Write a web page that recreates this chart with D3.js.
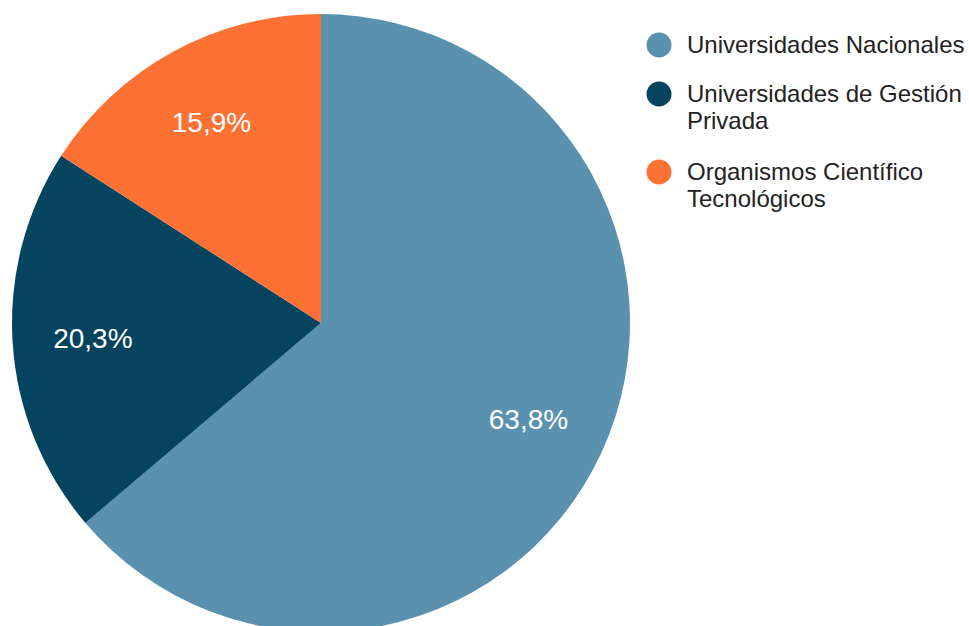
<html lang="es">
<head>
  <meta charset="UTF-8">
  <title>Pie</title>
  <style>
    body { margin: 0; background: #fff; }
    text { font-family: "Liberation Sans", Arial, sans-serif; }
  </style>
</head>
<body>
  <script src="https://d3js.org/d3.v7.min.js"></script>
  <div id="chart"></div>
  <script>
    // data
    let categories = ["Universidades Nacionales", "Universidades de Gestión Privada", "Organismos Científico Tecnológicos"];
    let values = [63.8, 20.3, 15.9];
    let colours = ["#5a91af", "#05445f", "#fe7134"];
    let legendLines = [["Universidades Nacionales"], ["Universidades de Gestión", "Privada"], ["Organismos Científico", "Tecnológicos"]];

    var width = 969, height = 626;
    var cx = 321, cy = 323, radius = 309;

    var svg = d3.select("#chart")
      .append("svg")
      .attr("width", width)
      .attr("height", height);

    var color = d3.scaleOrdinal().domain(categories).range(colours);

    var pie = d3.pie().sort(null).value(d => d.value);
    var arcs = pie(categories.map((c, i) => ({ name: c, value: values[i] })));

    var arc = d3.arc().innerRadius(0).outerRadius(radius);
    var labelArc = d3.arc().innerRadius(radius * 0.74).outerRadius(radius * 0.74);

    var g = svg.append("g").attr("transform", "translate(" + cx + "," + cy + ")");

    g.selectAll("path")
      .data(arcs)
      .enter()
      .append("path")
      .attr("d", arc)
      .attr("fill", d => color(d.data.name));

    g.selectAll("text")
      .data(arcs)
      .enter()
      .append("text")
      .attr("transform", d => "translate(" + labelArc.centroid(d) + ")")
      .attr("text-anchor", "middle")
      .attr("dy", "0.36em")
      .attr("fill", "#fff")
      .attr("font-size", "28px")
      .text(d => d3.format(".1f")(d.data.value).replace(".", ",") + "%");

    // legend
    let legendY = [45, 94, 172];
    var legend = svg.append("g");
    legend.selectAll("circle")
      .data(categories)
      .enter()
      .append("circle")
      .attr("cx", 659)
      .attr("cy", (d, i) => legendY[i])
      .attr("r", 12.5)
      .attr("fill", d => color(d));

    legend.selectAll("text")
      .data(legendLines)
      .enter()
      .append("text")
      .attr("x", 687)
      .attr("y", (d, i) => legendY[i] + 8)
      .attr("font-size", "24px")
      .attr("fill", "#222")
      .each(function (lines) {
        var t = d3.select(this);
        lines.forEach((l, j) => {
          t.append("tspan").attr("x", 687).attr("dy", j === 0 ? 0 : 27).text(l);
        });
      });
  </script>
</body>
</html>
